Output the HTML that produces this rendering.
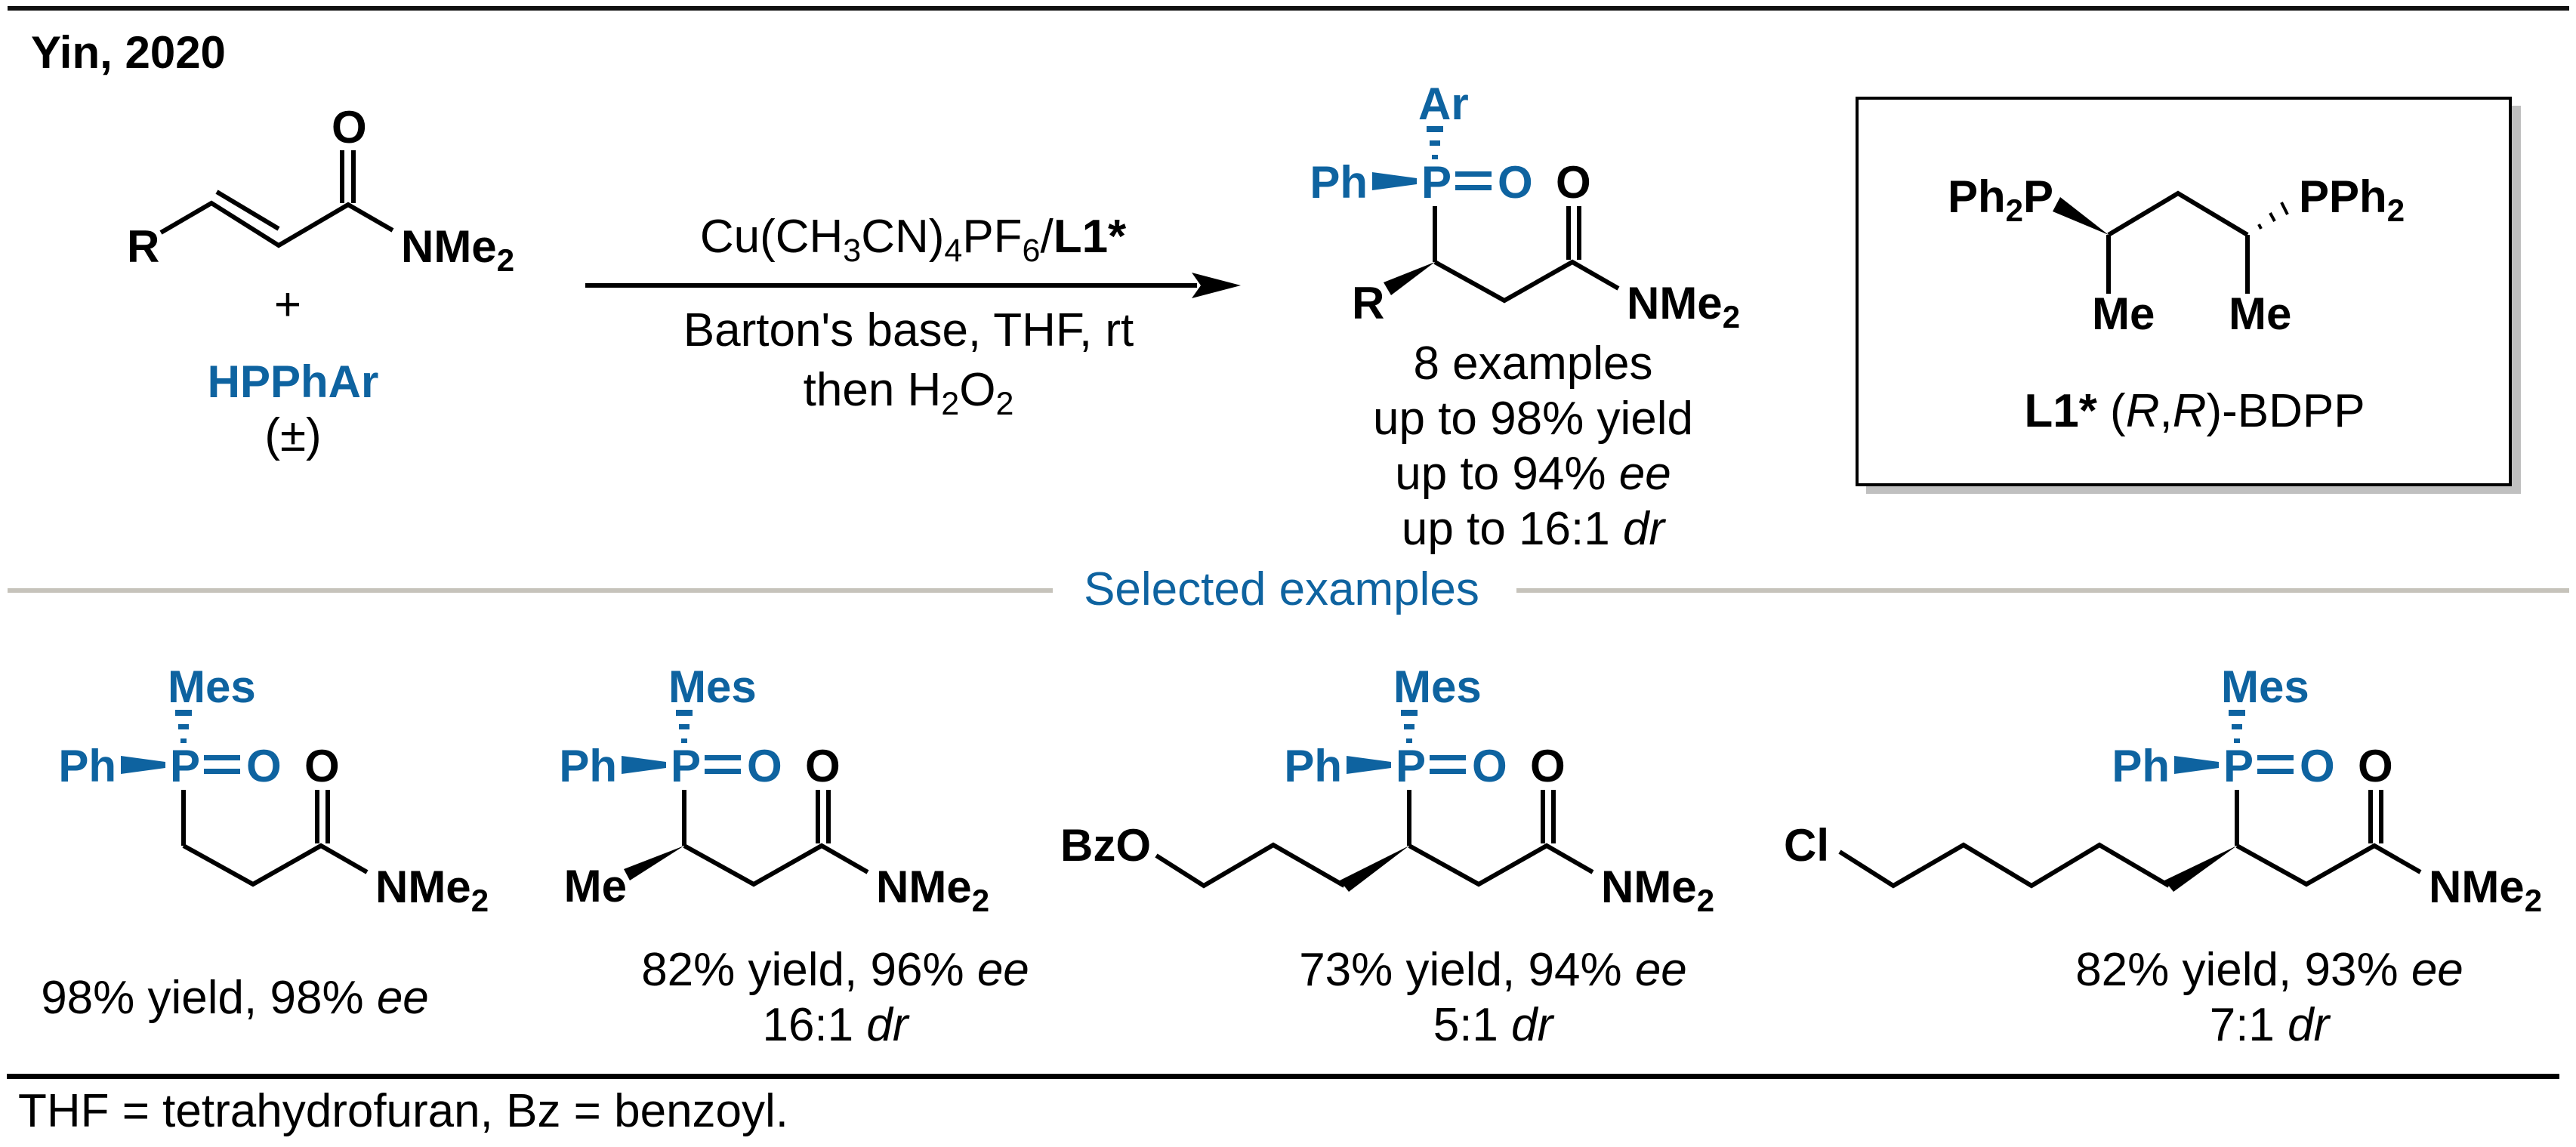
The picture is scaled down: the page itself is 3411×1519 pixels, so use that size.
<!DOCTYPE html>
<html><head><meta charset="utf-8"><style>
html,body{margin:0;padding:0;background:#fff;}
svg{display:block;}
text{font-family:"Liberation Sans",Arial,sans-serif;}
.b{font-weight:bold;font-size:60px;}
.bl{fill:#0e63a0;}
.n{font-size:62px;}
</style></head><body>
<svg width="3411" height="1519" viewBox="0 0 3411 1519" xmlns="http://www.w3.org/2000/svg">
<defs>
<g id="pblk">
  <rect x="-11" y="-95" width="22" height="8" fill="#0e63a0"/>
  <rect x="-7" y="-76" width="14" height="7" fill="#0e63a0"/>
  <rect x="-4" y="-57" width="8" height="6" fill="#0e63a0"/>
  <text x="-89" y="0" text-anchor="end" class="b bl">Ph</text>
  <polygon points="-83,-34 -83,-10 -24,-18 -24,-26" fill="#0e63a0"/>
  <text x="-18" y="0" class="b bl">P</text>
  <rect x="27" y="-35" width="48" height="7" fill="#0e63a0"/>
  <rect x="27" y="-17" width="48" height="7" fill="#0e63a0"/>
  <text x="83" y="0" class="b bl">O</text>
  <text x="160" y="0" class="b">O</text>
  <g stroke="#000" stroke-width="6" fill="none" stroke-linejoin="miter">
    <line x1="0" y1="11" x2="0" y2="85"/>
    <line x1="177" y1="11" x2="177" y2="82"/>
    <line x1="191" y1="11" x2="191" y2="82"/>
    <polyline points="0,85 92,136 182,85 243,120"/>
  </g>
  <text x="254" y="160" class="b">NMe<tspan font-size="42" dy="12">2</tspan></text>
</g>
</defs>

<!-- frame lines -->
<rect x="10" y="8" width="3392" height="6" fill="#111"/>
<rect x="10" y="779" width="1384" height="6" fill="#c6c3bb"/>
<rect x="2008" y="779" width="1394" height="6" fill="#c6c3bb"/>
<rect x="9" y="1422" width="3380" height="7" fill="#000"/>

<text x="41" y="90" class="b">Yin, 2020</text>

<!-- reactant -->
<text x="439" y="189" class="b">O</text>
<g stroke="#000" stroke-width="6" fill="none">
  <line x1="453" y1="199" x2="453" y2="269"/>
  <line x1="468" y1="199" x2="468" y2="269"/>
  <polyline points="213,308 280,269 369,325 461,271 520,305"/>
  <line x1="287" y1="254" x2="369" y2="303"/>
</g>
<text x="168" y="347" class="b">R</text>
<text x="531" y="347" class="b">NMe<tspan font-size="42" dy="12">2</tspan></text>
<text x="381" y="424" text-anchor="middle" class="n">+</text>
<text x="388" y="526" text-anchor="middle" class="b bl">HPPhAr</text>
<text x="388" y="597" text-anchor="middle" class="n">(±)</text>

<!-- arrow -->
<text x="1209" y="334" text-anchor="middle" class="n">Cu(CH<tspan font-size="43" dy="12">3</tspan><tspan dy="-12">CN)</tspan><tspan font-size="43" dy="12">4</tspan><tspan dy="-12">PF</tspan><tspan font-size="43" dy="12">6</tspan><tspan dy="-12">/</tspan><tspan font-weight="bold">L1*</tspan></text>
<rect x="775" y="375" width="810" height="6" fill="#000"/>
<polygon points="1578,361 1643,378 1578,395 1590,378" fill="#000"/>
<text x="1203" y="458" text-anchor="middle" class="n">Barton's base, THF, rt</text>
<text x="1203" y="537" text-anchor="middle" class="n">then H<tspan font-size="43" dy="12">2</tspan><tspan dy="-12">O</tspan><tspan font-size="43" dy="12">2</tspan></text>

<!-- product -->
<g transform="translate(1900,262)">
  <use href="#pblk"/>
  <text x="-22" y="-104" class="b bl">Ar</text>
  <polygon points="0,85 -58,129 -68,112" fill="#000"/>
  <text x="-110" y="160" class="b">R</text>
</g>
<text x="2030" y="502" text-anchor="middle" class="n">8 examples</text>
<text x="2030" y="575" text-anchor="middle" class="n">up to 98% yield</text>
<text x="2030" y="648" text-anchor="middle" class="n">up to 94% <tspan font-style="italic">ee</tspan></text>
<text x="2030" y="721" text-anchor="middle" class="n">up to 16:1 <tspan font-style="italic">dr</tspan></text>

<!-- ligand box -->
<rect x="2471" y="140" width="867" height="514" fill="#c0c0c0"/>
<rect x="2459" y="130" width="865" height="512" fill="#fff" stroke="#000" stroke-width="4"/>
<text x="2579" y="281" class="b">Ph<tspan font-size="42" dy="12">2</tspan><tspan dy="-12">P</tspan></text>
<polygon points="2792,311 2728,261 2718,280" fill="#000"/>
<g stroke="#000" stroke-width="6" fill="none">
  <polyline points="2792,311 2884,256 2976,311"/>
  <line x1="2792" y1="311" x2="2792" y2="389"/>
  <line x1="2976" y1="311" x2="2976" y2="389"/>
</g>
<g stroke="#000" stroke-width="4">
  <line x1="2991" y1="297" x2="2994" y2="303"/>
  <line x1="3006" y1="282" x2="3012" y2="293"/>
  <line x1="3021" y1="268" x2="3029" y2="284"/>
</g>
<text x="3044" y="281" class="b">PPh<tspan font-size="42" dy="12">2</tspan></text>
<text x="2770" y="436" class="b">Me</text>
<text x="2951" y="436" class="b">Me</text>
<text x="2906" y="565" text-anchor="middle" class="n"><tspan font-weight="bold">L1*</tspan> (<tspan font-style="italic">R</tspan>,<tspan font-style="italic">R</tspan>)-BDPP</text>

<text x="1697" y="801" text-anchor="middle" class="n bl">Selected examples</text>

<!-- example 1 -->
<g transform="translate(243,1035)">
  <use href="#pblk"/>
  <text x="-21" y="-105" class="b bl">Mes</text>
</g>
<text x="311" y="1342" text-anchor="middle" class="n">98% yield, 98% <tspan font-style="italic">ee</tspan></text>

<!-- example 2 -->
<g transform="translate(906,1035)">
  <use href="#pblk"/>
  <text x="-21" y="-105" class="b bl">Mes</text>
  <polygon points="0,85 -72,131 -80,116" fill="#000"/>
  <text x="-76" y="159" text-anchor="end" class="b">Me</text>
</g>
<text x="1106" y="1305" text-anchor="middle" class="n">82% yield, 96% <tspan font-style="italic">ee</tspan></text>
<text x="1106" y="1378" text-anchor="middle" class="n">16:1 <tspan font-style="italic">dr</tspan></text>

<!-- example 3 -->
<g transform="translate(1866,1035)">
  <use href="#pblk"/>
  <text x="-21" y="-105" class="b bl">Mes</text>
  <polygon points="0,85 -80,146 -92,131" fill="#000"/>
  <polyline points="-86,138 -180,84 -272,138 -335,98" stroke="#000" stroke-width="6" fill="none"/>
  <text x="-342" y="105" text-anchor="end" class="b">BzO</text>
</g>
<text x="1977" y="1305" text-anchor="middle" class="n">73% yield, 94% <tspan font-style="italic">ee</tspan></text>
<text x="1977" y="1378" text-anchor="middle" class="n">5:1 <tspan font-style="italic">dr</tspan></text>

<!-- example 4 -->
<g transform="translate(2962,1035)">
  <use href="#pblk"/>
  <text x="-21" y="-105" class="b bl">Mes</text>
  <polygon points="0,85 -84,146 -96,131" fill="#000"/>
  <polyline points="-90,138 -182,84 -272,138 -362,84 -455,138 -526,93" stroke="#000" stroke-width="6" fill="none"/>
  <text x="-540" y="105" text-anchor="end" class="b">Cl</text>
</g>
<text x="3005" y="1305" text-anchor="middle" class="n">82% yield, 93% <tspan font-style="italic">ee</tspan></text>
<text x="3005" y="1378" text-anchor="middle" class="n">7:1 <tspan font-style="italic">dr</tspan></text>

<text x="24" y="1492" class="n">THF = tetrahydrofuran, Bz = benzoyl.</text>
</svg>
</body></html>
